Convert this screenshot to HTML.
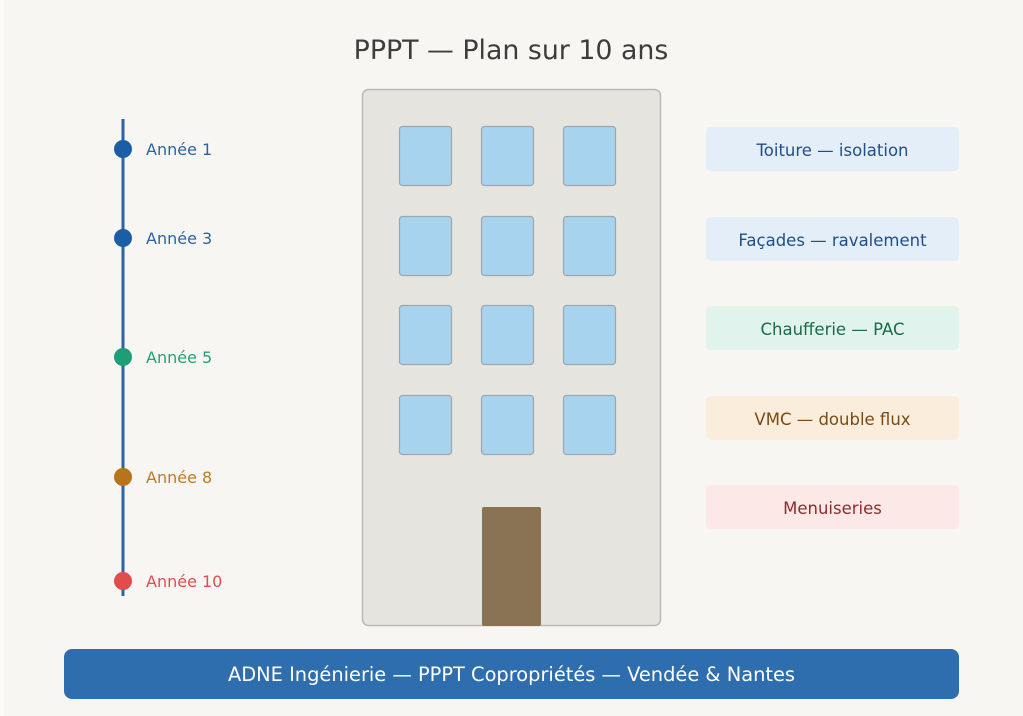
<!DOCTYPE html>
<html>
<head>
<meta charset="utf-8">
<style>
  html, body { margin: 0; padding: 0; background: #fbfbfa; }
  body { width: 1023px; height: 716px; overflow: hidden; }
  svg { display: block; }
  text { font-family: "DejaVu Sans", "Liberation Sans", sans-serif; }
</style>
</head>
<body>
<svg width="1023" height="716" viewBox="0 0 1023 716" xmlns="http://www.w3.org/2000/svg">
  <rect x="0" y="0" width="1023" height="716" fill="#fbfbfa"/>
  <rect x="4" y="0" width="1019" height="716" fill="#f7f6f3"/>

  <!-- Title -->
  <text x="511" y="59" text-anchor="middle" font-size="26.8" fill="#3d3d3d">PPPT — Plan sur 10 ans</text>

  <!-- Timeline -->
  <line x1="123" y1="119" x2="123" y2="596" stroke="#2b64a8" stroke-width="3"/>
  <circle cx="123" cy="149" r="9" fill="#1c5ea6"/>
  <circle cx="123" cy="238" r="9" fill="#1c5ea6"/>
  <circle cx="123" cy="357" r="9" fill="#1f9d76"/>
  <circle cx="123" cy="477" r="9" fill="#b8741c"/>
  <circle cx="123" cy="581" r="9" fill="#e14d4d"/>
  <text x="146" y="155" font-size="16" fill="#2a64a8">Année 1</text>
  <text x="146" y="244" font-size="16" fill="#2a64a8">Année 3</text>
  <text x="146" y="363" font-size="16" fill="#24a07a">Année 5</text>
  <text x="146" y="483" font-size="16" fill="#bd7a26">Année 8</text>
  <text x="146" y="587" font-size="16" fill="#e14d4d">Année 10</text>

  <!-- Building -->
  <rect x="362.5" y="89.5" width="298" height="536" rx="6" fill="#e6e4df" stroke="#bbb9b1" stroke-width="1.5"/>
  <g fill="#a8d3ee" stroke="#9aa7ad" stroke-width="1.2">
    <rect x="399.5" y="126.5" width="52" height="59" rx="3"/>
    <rect x="481.5" y="126.5" width="52" height="59" rx="3"/>
    <rect x="563.5" y="126.5" width="52" height="59" rx="3"/>
    <rect x="399.5" y="216.5" width="52" height="59" rx="3"/>
    <rect x="481.5" y="216.5" width="52" height="59" rx="3"/>
    <rect x="563.5" y="216.5" width="52" height="59" rx="3"/>
    <rect x="399.5" y="305.5" width="52" height="59" rx="3"/>
    <rect x="481.5" y="305.5" width="52" height="59" rx="3"/>
    <rect x="563.5" y="305.5" width="52" height="59" rx="3"/>
    <rect x="399.5" y="395.5" width="52" height="59" rx="3"/>
    <rect x="481.5" y="395.5" width="52" height="59" rx="3"/>
    <rect x="563.5" y="395.5" width="52" height="59" rx="3"/>
  </g>
  <rect x="482" y="507" width="59" height="119" rx="2" fill="#8a7355"/>

  <!-- Right boxes -->
  <rect x="706" y="127" width="253" height="44" rx="5" fill="#e3eef9"/>
  <text x="832.5" y="156" text-anchor="middle" font-size="16.5" fill="#1f4f86">Toiture — isolation</text>
  <rect x="706" y="217" width="253" height="44" rx="5" fill="#e3eef9"/>
  <text x="832.5" y="246" text-anchor="middle" font-size="16.5" fill="#1f4f86">Façades — ravalement</text>
  <rect x="706" y="306" width="253" height="44" rx="5" fill="#e0f3ec"/>
  <text x="832.5" y="335" text-anchor="middle" font-size="16.5" fill="#1a6b4c">Chaufferie — PAC</text>
  <rect x="706" y="396" width="253" height="44" rx="5" fill="#fbeddb"/>
  <text x="832.5" y="425" text-anchor="middle" font-size="16.5" fill="#7a4a14">VMC — double flux</text>
  <rect x="706" y="485" width="253" height="44" rx="5" fill="#fbe8e7"/>
  <text x="832.5" y="514" text-anchor="middle" font-size="16.5" fill="#8a2e2c">Menuiseries</text>

  <!-- Footer -->
  <rect x="64" y="649" width="895" height="50" rx="8" fill="#2e6dae"/>
  <text x="511.5" y="681" text-anchor="middle" font-size="19.4" fill="#ffffff">ADNE Ingénierie — PPPT Copropriétés — Vendée &amp; Nantes</text>
</svg>
</body>
</html>
